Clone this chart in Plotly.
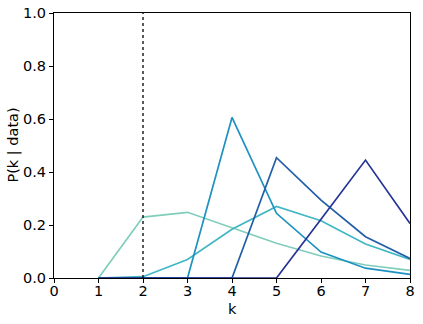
import plotly.graph_objects as go

k = [1, 2, 3, 4, 5, 6, 7, 8]

# posterior curves, one per dataset
p_a = [0.0, 0.23, 0.248, 0.19, 0.131, 0.083, 0.049, 0.029]
p_b = [0.0, 0.005, 0.07, 0.184, 0.27, 0.216, 0.128, 0.07]
p_c = [0.0, 0.0, 0.0, 0.606, 0.244, 0.098, 0.037, 0.014]
p_d = [0.0, 0.0, 0.0, 0.0, 0.454, 0.294, 0.156, 0.074]
p_e = [0.0, 0.0, 0.0, 0.0, 0.0, 0.222, 0.445, 0.206]

series = [p_a, p_b, p_c, p_d, p_e]
colors = ["#7fcdbb", "#41b6c4", "#1d91c0", "#225ea8", "#253494"]

k_true = 2

fig = go.Figure()
for vals, c in zip(series, colors):
    fig.add_trace(go.Scatter(x=k, y=vals, mode="lines",
                             line=dict(color=c, width=1.7), showlegend=False))

fig.add_trace(go.Scatter(x=[k_true, k_true], y=[0, 1], mode="lines",
                         line=dict(color="black", width=1.3, dash="dot"),
                         showlegend=False))

font = dict(family="DejaVu Sans", size=14.5, color="black")
axis_style = dict(showline=True, linecolor="black", linewidth=1, mirror=True,
                  ticks="outside", ticklen=4, tickcolor="black",
                  showgrid=False, zeroline=False, automargin=False,
                  tickfont=font)

fig.update_xaxes(range=[0, 8], dtick=1, ticklabelstandoff=-4, **axis_style)
fig.update_yaxes(range=[0, 1], dtick=0.2, tickformat=".1f", **axis_style)

# axis titles placed as annotations for tighter control
fig.add_annotation(text="k", xref="paper", yref="paper", x=0.5, y=-0.118,
                   xanchor="center", yanchor="middle", showarrow=False, font=font)
fig.add_annotation(text="P(k | data)", xref="paper", yref="paper", x=-0.115, y=0.5,
                   xanchor="center", yanchor="middle", textangle=-90,
                   showarrow=False, font=font)

fig.update_layout(width=423, height=324, template="plotly_white",
                  plot_bgcolor="white", paper_bgcolor="white",
                  margin=dict(l=54, r=13, t=13, b=46, autoexpand=False))

# drop the default page margin so the figure sits at the window origin
fig.write_html("out.html", config={"displayModeBar": False},
               post_script="document.body.style.margin='0';")
